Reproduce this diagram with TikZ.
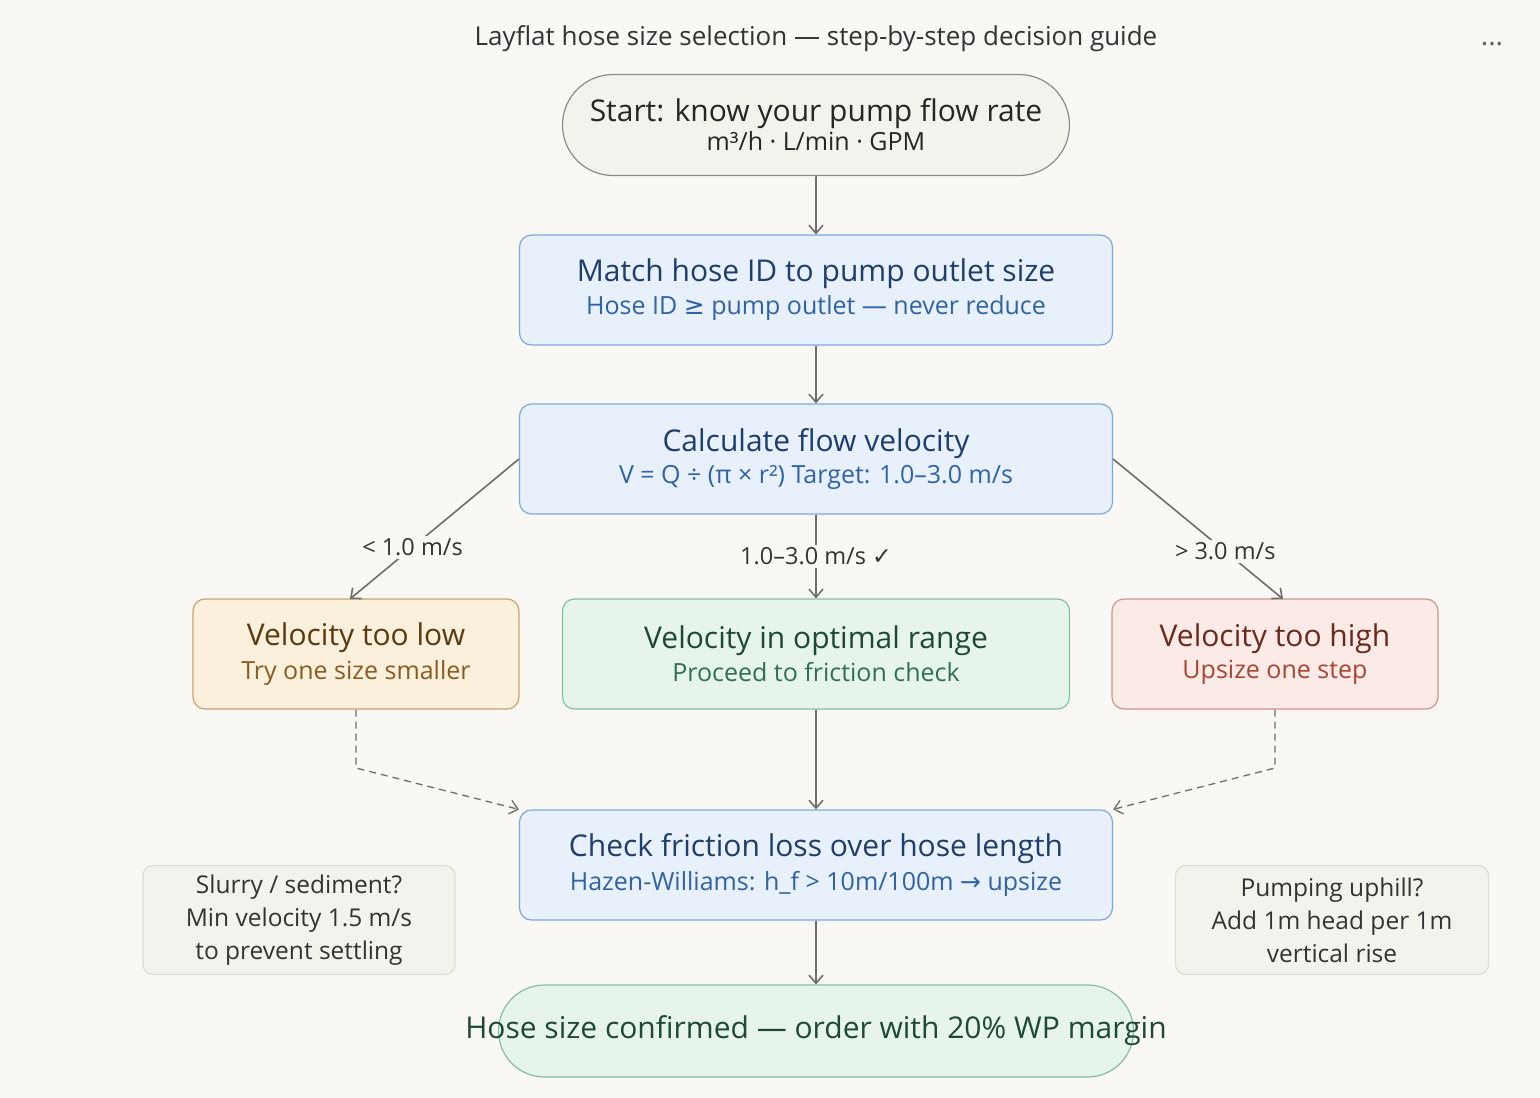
\documentclass[tikz,border=0pt]{standalone}
\usepackage{fontspec}
\setmainfont{Open Sans}
\newfontfamily\symf{DejaVu Sans}
\usetikzlibrary{shapes.misc,arrows.meta}
\definecolor{bg}{HTML}{FAF8F4}
\definecolor{ln}{HTML}{6E6E6E}
\definecolor{bfill}{HTML}{E7F0FB}\definecolor{bdraw}{HTML}{7FA8DA}\definecolor{bt}{HTML}{1F3E6C}\definecolor{bs}{HTML}{2F63A6}
\definecolor{gfill}{HTML}{E6F4EC}\definecolor{gdraw}{HTML}{84C09E}\definecolor{gt}{HTML}{1E4A34}\definecolor{gs}{HTML}{2F7052}
\definecolor{yfill}{HTML}{FBF0DC}\definecolor{ydraw}{HTML}{C9A26E}\definecolor{yt}{HTML}{5A3A10}\definecolor{ys}{HTML}{8A5A20}
\definecolor{rfill}{HTML}{FBEAE6}\definecolor{rdraw}{HTML}{D0938A}\definecolor{rt}{HTML}{6B2A1F}\definecolor{rs}{HTML}{A84535}
\definecolor{nfill}{HTML}{F4F2EC}\definecolor{ndraw}{HTML}{E0DDD5}
\tikzset{x=1pt,y=-1pt,
 box/.style={rounded corners=12pt,line width=1.2pt,align=center,inner sep=0pt},
 blue/.style={box,fill=bfill,draw=bdraw,minimum width=593pt,minimum height=110pt},
 pill/.style={rounded rectangle,line width=1.2pt,align=center,inner sep=0pt},
 arr/.style={draw=ln,line width=1.6pt,-{Straight Barb[length=8pt,width=14pt]}},
 darr/.style={arr,dashed,line width=1.3pt,dash pattern=on 7pt off 5pt},
 lbl/.style={font=\fontsize{23.5}{28}\selectfont,text=black!80,fill=bg,inner sep=3pt},
 note/.style={box,rounded corners=10pt,fill=nfill,draw=ndraw,minimum height=109pt,text=black!80,font=\fontsize{24.5}{33}\selectfont}}
\newcommand{\mytt}[1]{{\fontsize{30}{36}\selectfont #1}}
\newcommand{\myss}[1]{{\fontsize{25}{30}\selectfont #1}}
\begin{document}
\begin{tikzpicture}
\fill[bg] (0,0) rectangle (1540,1098);
\useasboundingbox (0,0) rectangle (1540,1098);
\node[font=\fontsize{26}{30}\selectfont,text=black!80] (title) at (816,39) {Layflat hose size selection — step-by-step decision guide};
\node[font=\fontsize{28}{28}\selectfont,text=black!60] (dots) at (1492,44) {...};
\node[pill,fill=nfill,draw=ln!80,minimum width=507pt,minimum height=101pt,text=black!85] (start) at (816,125) {\mytt{Start: know your pump flow rate}\\[2pt]\myss{m³/h · L/min · GPM}};
\node[blue] (match) at (816,290) {\textcolor{bt}{\mytt{Match hose ID to pump outlet size}}\\[6pt]\textcolor{bs}{\myss{Hose ID {\symf ≥} pump outlet — never reduce}}};
\node[blue] (calc) at (816,459) {\textcolor{bt}{\mytt{Calculate flow velocity}}\\[6pt]\textcolor{bs}{\myss{V = Q ÷ (π × r²) Target: 1.0–3.0 m/s}}};
\node[box,fill=yfill,draw=ydraw,minimum width=326pt,minimum height=110pt] (low) at (356,654) {\textcolor{yt}{\mytt{Velocity too low}}\\[6pt]\textcolor{ys}{\myss{Try one size smaller}}};
\node[box,fill=gfill,draw=gdraw,minimum width=507pt,minimum height=110pt] (opt) at (816,654) {\textcolor{gt}{\mytt{Velocity in optimal range}}\\[6pt]\textcolor{gs}{\myss{Proceed to friction check}}};
\node[box,fill=rfill,draw=rdraw,minimum width=326pt,minimum height=110pt] (high) at (1275,654) {\textcolor{rt}{\mytt{Velocity too high}}\\[6pt]\textcolor{rs}{\myss{Upsize one step}}};
\node[blue] (fric) at (816,865) {\textcolor{bt}{\mytt{Check friction loss over hose length}}\\[6pt]\textcolor{bs}{\myss{Hazen-Williams: h\_f > 10m/100m {\symf →} upsize}}};
\node[pill,fill=gfill,draw=gdraw,minimum width=635pt,minimum height=92pt] (fin) at (816,1031) {};
\node[text=gt] (fint) at (816,1031) {\mytt{Hose size confirmed — order with 20\% WP margin}};
\node[note,minimum width=312pt] (n1) at (299,920) {Slurry / sediment?\\Min velocity 1.5 m/s\\to prevent settling};
\node[note,minimum width=313pt] (n2) at (1332,920) {Pumping uphill?\\Add 1m head per 1m\\vertical rise};
\coordinate (lj) at (356,768); \coordinate (rj) at (1275,768);
\coordinate (la) at (350,599); \coordinate (ra) at (1283,599);
\draw[arr] (start) -- (match);
\draw[arr] (match) -- (calc);
\draw[arr] (calc) -- node[lbl,pos=0.5]{1.0–3.0 m/s {\symf ✓}} (opt);
\draw[arr] (calc.west) -- node[lbl,pos=0.63]{< 1.0 m/s} (la);
\draw[arr] (calc.east) -- node[lbl,pos=0.66]{> 3.0 m/s} (ra);
\draw[arr] (opt) -- (fric);
\draw[darr] (low.south) -- (lj) -- (fric.north west);
\draw[darr] (high.south) -- (rj) -- (fric.north east);
\draw[arr] (fric) -- (fin);
\end{tikzpicture}
\end{document}
